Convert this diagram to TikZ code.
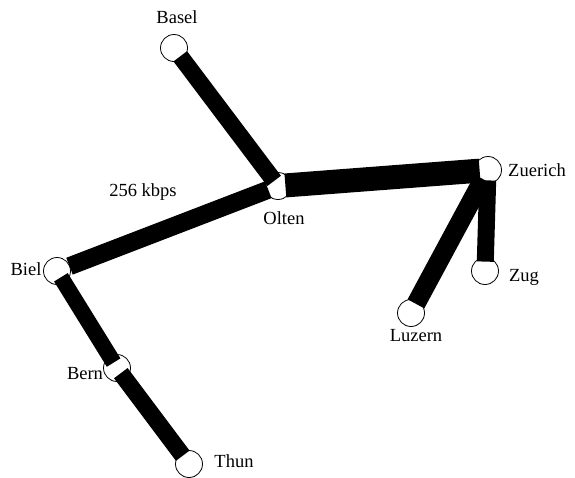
\documentclass[tikz,border=0pt]{standalone}
\usepackage{fontspec}
\setmainfont{Liberation Serif}
\begin{document}
\begin{tikzpicture}[x=1pt,y=-1pt,
  city/.style={circle,draw=black,line width=0.8pt,fill=white,minimum size=27pt,inner sep=0pt},
  lbl/.style={anchor=base,inner sep=0pt,font=\fontsize{18.5}{20}\selectfont},
  link/.style={draw=black,line cap=butt}]
\useasboundingbox (0,0) rectangle (575,477);
% cities
\node[city] (basel) at (174,48) {};
\node[city] (olten) at (278,186) {};
\node[city] (zuerich) at (488,170) {};
\node[city] (zug) at (485,271) {};
\node[city] (luzern) at (411,313) {};
\node[city] (biel) at (57,271) {};
\node[city] (bern) at (117,368) {};
\node[city] (thun) at (189,464) {};
% labels
\node[lbl] (lbasel) at (177,23) {Basel};
\node[lbl] (lolten) at (284,224) {Olten};
\node[lbl] (lzuerich) at (537,176) {Zuerich};
\node[lbl] (lzug) at (524,281) {Zug};
\node[lbl] (lluzern) at (416,341) {Luzern};
\node[lbl] (lbiel) at (26,275) {Biel};
\node[lbl] (lbern) at (85,379) {Bern};
\node[lbl] (lthun) at (234,467) {Thun};
\node[lbl] (bw) at (143,196) {256 kbps};
% links
\draw[link,line width=17pt,shorten <=-3.5pt,shorten >=-7.5pt] (basel) -- (olten);
\draw[link,line width=18pt,shorten <=-3.5pt,shorten >=-0.5pt] (olten) -- (biel);
\draw[link,line width=24pt,shorten <=-6.5pt,shorten >=-5.5pt] (olten) -- (zuerich);
\draw[link,line width=17pt,shorten <=-3.5pt,shorten >=-4.5pt] (zuerich) -- (zug);
\draw[link,line width=19pt,shorten <=-3.5pt,shorten >=-3.5pt] (zuerich) -- (luzern);
\draw[link,line width=16pt,shorten <=-6.5pt,shorten >=-7.5pt] (biel) -- (bern);
\draw[link,line width=17pt,shorten <=-7.5pt,shorten >=-3.5pt] (bern) -- (thun);
\end{tikzpicture}
\end{document}
